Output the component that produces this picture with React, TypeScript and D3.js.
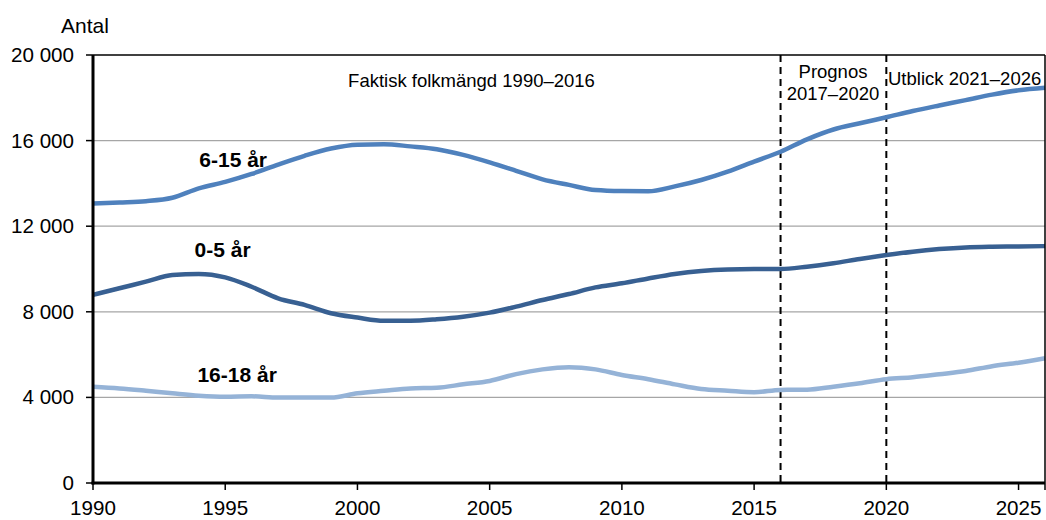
import React from "react";
import * as d3 from "d3";

const years: number[] = [
  1990, 1991, 1992, 1993, 1994, 1995, 1996, 1997, 1998, 1999, 2000, 2001, 2002,
  2003, 2004, 2005, 2006, 2007, 2008, 2009, 2010, 2011, 2012, 2013, 2014, 2015,
  2016, 2017, 2018, 2019, 2020, 2021, 2022, 2023, 2024, 2025, 2026,
];

const age6to15: number[] = [
  13060, 13110, 13170, 13330, 13770, 14070, 14440, 14880, 15290, 15630, 15810,
  15830, 15730, 15600, 15330, 14980, 14590, 14190, 13930, 13690, 13640, 13630,
  13860, 14160, 14550, 15020, 15480, 16060, 16520, 16810, 17090, 17380, 17640,
  17890, 18150, 18350, 18470,
];

const age0to5: number[] = [
  8790, 9100, 9410, 9720, 9770, 9610, 9170, 8630, 8320, 7930, 7730, 7580, 7580,
  7650, 7770, 7960, 8240, 8550, 8830, 9140, 9330, 9560, 9770, 9910, 9980, 10000,
  10000, 10110, 10270, 10470, 10650, 10810, 10930, 11010, 11040, 11050, 11070,
];

const age16to18: number[] = [
  4500, 4420, 4310, 4190, 4080, 4030, 4050, 3990, 3990, 3990, 4190, 4310, 4420,
  4450, 4610, 4770, 5090, 5310, 5410, 5310, 5050, 4850, 4610, 4390, 4310, 4240,
  4350, 4360, 4500, 4660, 4850, 4940, 5080, 5230, 5460, 5620, 5830,
];

const seriesNames: string[] = ["6-15 år", "0-5 år", "16-18 år"];
const seriesColors: string[] = ["#4f81bd", "#386092", "#95b3d7"];
const labelAnchorYears: number[] = [1995.3, 1994.9, 1995.45];
const labelAnchorValues: number[] = [14770, 10580, 4740];

const yTicks: number[] = [0, 4000, 8000, 12000, 16000, 20000];
const xTicks: number[] = [1990, 1995, 2000, 2005, 2010, 2015, 2020, 2025];
const periodBreaks: number[] = [2016, 2020];

const FONT = "'Liberation Sans', Arial, Helvetica, sans-serif";

export default function App() {
  const W = 1046;
  const H = 520;
  const left = 93;
  const right = 1045;
  const top = 55;
  const bottom = 483;

  const x = d3.scaleLinear().domain([1990, 2026]).range([left, right]);
  const y = d3.scaleLinear().domain([0, 20000]).range([bottom, top]);

  const allSeries = [age6to15, age0to5, age16to18];
  const line = d3
    .line<number>()
    .x((_, i) => x(years[i]))
    .y((d) => y(d))
    .curve(d3.curveMonotoneX);

  const fmt = (v: number) =>
    v === 0 ? "0" : d3.format(",")(v).replace(/,/g, " ");

  return (
    <svg
      width={W}
      height={H}
      style={{ position: "absolute", left: 0, top: 0, background: "#fff" }}
      fontFamily={FONT}
    >
      <rect x={0} y={0} width={W} height={H} fill="#fff" />
      {yTicks
        .filter((t) => t > 0 && t < 20000)
        .map((t) => (
          <line
            key={"g" + t}
            x1={left}
            x2={right}
            y1={y(t)}
            y2={y(t)}
            stroke="#a6a6a6"
            strokeWidth={1.3}
          />
        ))}
      {periodBreaks.map((b) => (
        <line
          key={"p" + b}
          x1={x(b)}
          x2={x(b)}
          y1={top}
          y2={bottom}
          stroke="#000"
          strokeWidth={2}
          strokeDasharray="7,5"
        />
      ))}
      {allSeries.map((s, i) => (
        <path
          key={"s" + i}
          d={line(s) || ""}
          fill="none"
          stroke={seriesColors[i]}
          strokeWidth={4.5}
          strokeLinejoin="round"
        />
      ))}
      <line x1={left} x2={right} y1={top} y2={top} stroke="#000" strokeWidth={1.5} />
      <line x1={right} x2={right} y1={top} y2={bottom} stroke="#000" strokeWidth={1.5} />
      <line x1={left} x2={left} y1={top} y2={bottom + 1.5} stroke="#000" strokeWidth={3} />
      <line x1={left - 1.5} x2={right} y1={bottom} y2={bottom} stroke="#000" strokeWidth={3} />
      {yTicks.map((t) => (
        <g key={"yt" + t}>
          <line x1={left - 7} x2={left} y1={y(t)} y2={y(t)} stroke="#000" strokeWidth={1.5} />
          <text
            x={left - 19}
            y={y(t) + 7}
            textAnchor="end"
            fontSize={20.6}
            fill="#000"
          >
            {fmt(t)}
          </text>
        </g>
      ))}
      {xTicks.map((t) => (
        <g key={"xt" + t}>
          <line x1={x(t)} x2={x(t)} y1={bottom} y2={bottom + 7} stroke="#000" strokeWidth={1.5} />
          <text x={x(t)} y={bottom + 32} textAnchor="middle" fontSize={20.6} fill="#000">
            {t}
          </text>
        </g>
      ))}
      <line x1={right} x2={right} y1={bottom} y2={bottom + 7} stroke="#000" strokeWidth={1.5} />
      <text x={61} y={33} fontSize={21} fill="#000">
        Antal
      </text>
      <text x={471.5} y={87} textAnchor="middle" fontSize={18.5} fill="#000">
        Faktisk folkmängd 1990–2016
      </text>
      <text x={833} y={77.5} textAnchor="middle" fontSize={18.5} fill="#000">
        Prognos
      </text>
      <text x={833} y={100} textAnchor="middle" fontSize={18.5} fill="#000">
        2017–2020
      </text>
      <text x={888} y={85} textAnchor="start" fontSize={18.5} fill="#000">
        Utblick 2021–2026
      </text>
      {seriesNames.map((n, i) => (
        <text
          key={"l" + i}
          x={x(labelAnchorYears[i])}
          y={y(labelAnchorValues[i])}
          textAnchor="middle"
          fontSize={21}
          fontWeight="bold"
          fill="#000"
        >
          {n}
        </text>
      ))}
    </svg>
  );
}
